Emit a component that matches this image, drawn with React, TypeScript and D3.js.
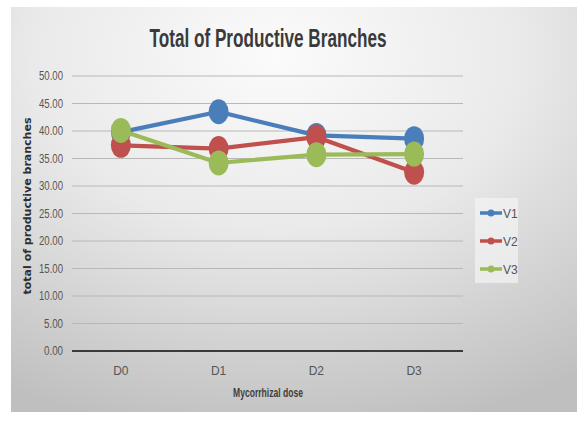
import * as d3 from "d3";

const doses = ["D0", "D1", "D2", "D3"];
const v1 = [39.8, 43.5, 39.2, 38.6];
const v2 = [37.4, 36.8, 38.9, 32.5];
const v3 = [40.1, 34.2, 35.7, 35.8];
const yTicks = [0, 5, 10, 15, 20, 25, 30, 35, 40, 45, 50];
const seriesNames = ["V1", "V2", "V3"];

const colors = ["#4a7ebb", "#c0504d", "#9bbb59"];

const App = () => {
  const width = 577;
  const height = 421;
  const margin = { top: 76, right: 114, bottom: 70, left: 72 };
  const plotW = width - margin.left - margin.right;
  const plotH = height - margin.top - margin.bottom;

  const x = d3.scalePoint().domain(doses).range([0, plotW]).padding(0.5);
  const y = d3.scaleLinear().domain([0, 50]).range([plotH, 0]);

  const series = [v1, v2, v3];
  const line = d3
    .line<number>()
    .x((d, i) => x(doses[i]) as number)
    .y((d) => y(d));

  const font = "Liberation Sans Narrow, Liberation Sans, Arial, sans-serif";

  return (
    <svg
      width={width}
      height={height}
      style={{ position: "absolute", left: 0, top: 0 }}
    >
      <defs>
        <radialGradient id="bg" cx="0.47" cy="0.12" r="0.95">
          <stop offset="0" stopColor="#fbfbfb" />
          <stop offset="0.45" stopColor="#eaeaea" />
          <stop offset="1" stopColor="#bfbfbf" />
        </radialGradient>
      </defs>
      <rect x={0} y={0} width={width} height={height} fill="#ffffff" />
      <rect x={11} y={7} width={width - 11} height={405} fill="url(#bg)" />

      {/* title */}
      <text
        x={268}
        y={47}
        textAnchor="middle"
        fontFamily={font}
        fontSize={25}
        fontWeight="bold"
        fill="#3a3a3a"
        textLength={237}
        lengthAdjust="spacingAndGlyphs"
      >
        Total of Productive Branches
      </text>

      <g transform={`translate(${margin.left},${margin.top})`}>
        {/* gridlines and y labels */}
        {yTicks.map((t) => (
          <g key={t}>
            {t !== 0 && (
              <line
                x1={0}
                x2={plotW}
                y1={y(t)}
                y2={y(t)}
                stroke="#b8b8b8"
                strokeWidth={1}
              />
            )}
            <text
              x={-9}
              y={y(t) + 4}
              textAnchor="end"
              fontFamily={font}
              fontSize={12}
              fill="#555555"
              textLength={t < 10 ? 19 : 24}
              lengthAdjust="spacingAndGlyphs"
            >
              {t.toFixed(2)}
            </text>
          </g>
        ))}
        <line
          x1={0}
          x2={plotW}
          y1={y(0)}
          y2={y(0)}
          stroke="#3a3a3a"
          strokeWidth={2.2}
        />

        {/* x labels */}
        {doses.map((d) => (
          <text
            key={d}
            x={x(d)}
            y={plotH + 24}
            textAnchor="middle"
            fontFamily={font}
            fontSize={12}
            fill="#555555"
          >
            {d}
          </text>
        ))}

        {/* series */}
        {series.map((s, si) => (
          <g key={si}>
            <path
              d={line(s) as string}
              fill="none"
              stroke={colors[si]}
              strokeWidth={4.2}
              strokeLinejoin="round"
            />
            {s.map((v, i) => (
              <ellipse
                key={i}
                cx={x(doses[i])}
                cy={y(v)}
                rx={10}
                ry={12.5}
                fill={colors[si]}
              />
            ))}
          </g>
        ))}
      </g>

      {/* axis titles */}
      <text
        x={268}
        y={397}
        textAnchor="middle"
        fontFamily={font}
        fontSize={13}
        fontWeight="bold"
        fill="#404040"
        textLength={70}
        lengthAdjust="spacingAndGlyphs"
      >
        Mycorrhizal dose
      </text>
      <text
        transform="translate(31,206) rotate(-90)"
        textAnchor="middle"
        fontFamily="DejaVu Sans, sans-serif"
        fontSize={11}
        fontWeight="bold"
        fill="#2f2f2f"
        textLength={177}
        lengthAdjust="spacingAndGlyphs"
      >
        total of productive branches
      </text>

      {/* legend */}
      <rect x={475} y={198} width={43} height={85} fill="#f3f3f3" opacity={0.7} />
      {seriesNames.map((n, i) => (
        <g key={n} transform={`translate(480,${213 + i * 28})`}>
          <line x1={0} x2={22} y1={0} y2={0} stroke={colors[i]} strokeWidth={3.5} />
          <circle cx={11} cy={0} r={3.5} fill={colors[i]} />
          <text
            x={23}
            y={4.5}
            fontFamily={font}
            fontSize={12}
            fill="#555555"
          >
            {n}
          </text>
        </g>
      ))}
    </svg>
  );
};

export default App;
